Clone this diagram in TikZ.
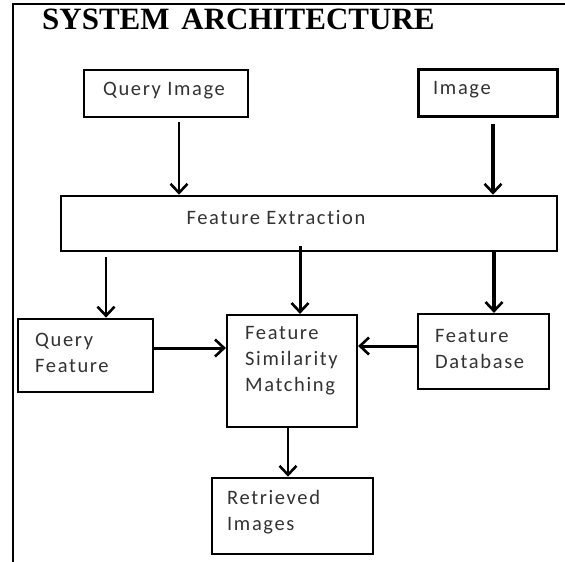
\documentclass[tikz,border=0pt]{standalone}
\usepackage{fontspec}
\setmainfont{Carlito}
\newfontfamily\boxfont{Carlito}[LetterSpace=8, Ligatures={NoCommon}]
\newfontfamily\titlefont{Liberation Serif}
\usetikzlibrary{arrows.meta}
\definecolor{txtgrey}{HTML}{333333}
\tikzset{
  box/.style={draw=black, line width=2.2pt, rectangle, inner sep=0pt},
  boxtext/.style={inner sep=0pt, align=left, text=txtgrey, font=\boxfont\fontsize{20.5}{26}\selectfont},
  arr/.style={line width=2.6pt, -{Straight Barb[length=9pt,width=17pt,line width=2.6pt]}},
  frame/.style={line width=2.2pt}
}
\begin{document}
\begin{tikzpicture}[x=1pt,y=-1pt]
\useasboundingbox (0,0) rectangle (565,562);
\fill[white] (0,0) rectangle (565,562);
% frame
\coordinate (ftr) at (565,4);
\coordinate (ftl) at (13,4);
\coordinate (fbl) at (13,562);
\draw[frame] (ftr) -- (ftl) -- (fbl);
% title
\node[anchor=base west, inner sep=0pt, font=\titlefont\bfseries\fontsize{31}{31}\selectfont] (title) at (42,29) {SYSTEM\hspace{4pt} ARCHITECTURE};
% boxes
\node[box, line width=2pt, minimum width=164pt, minimum height=47pt] (qi) at (166,93.5) {};
\node[box, line width=3pt, minimum width=139pt, minimum height=47pt] (im) at (487.5,92.5) {};
\node[box, line width=2.6pt, minimum width=496pt, minimum height=55pt] (fe) at (309,223.5) {};
\node[box, line width=2.8pt, minimum width=135pt, minimum height=73pt] (qf) at (85.5,355.5) {};
\node[box, minimum width=130pt, minimum height=112pt] (fsm) at (292,371) {};
\node[box, minimum width=131pt, minimum height=75pt] (fd) at (483.5,351.5) {};
\node[box, line width=2.6pt, minimum width=161pt, minimum height=76pt] (ri) at (292.5,516) {};
% texts
\node[boxtext] (qit) at (164,91) {Query Image};
\node[boxtext, anchor=west] (imt) at (433,90) {Image};
\node[boxtext] (fet) at (276,218) {Feature Extraction};
\node[boxtext, anchor=west] (qft) at (35,353) {Query\\Feature};
\node[boxtext, anchor=west] (fsmt) at (245,361) {Feature\\Similarity\\Matching};
\node[boxtext, anchor=west] (fdt) at (435,348.5) {Feature\\Database};
\node[boxtext, anchor=west] (rit) at (227,512) {Retrieved\\Images};
% arrow x positions
\coordinate (x1) at (179,0);
\coordinate (x2) at (493,0);
\coordinate (x3) at (106,0);
\coordinate (x4) at (300,0);
\coordinate (x5) at (494,0);
\coordinate (x6) at (288,0);
\coordinate (y1) at (0,348);
\coordinate (y2) at (0,346);
% arrows
\draw[arr, line width=2.2pt] ([yshift=-4pt]qi.south -| x1) -- (fe.north -| x1);
\draw[arr, line width=3.8pt] ([yshift=-6pt]im.south -| x2) -- (fe.north -| x2);
\draw[arr, line width=2.6pt] ([yshift=-5pt]fe.south -| x3) -- (qf.north -| x3);
\draw[arr, line width=3pt] ([yshift=6pt]fe.south -| x4) -- (fsm.north -| x4);
\draw[arr, line width=3.8pt] (fe.south -| x5) -- (fd.north -| x5);
\draw[arr, line width=3pt] (qf.east |- y1) -- (fsm.west |- y1);
\draw[arr, line width=3pt] (fd.west |- y2) -- (fsm.east |- y2);
\draw[arr, line width=2.4pt] (fsm.south -| x6) -- (ri.north -| x6);
\end{tikzpicture}
\end{document}
